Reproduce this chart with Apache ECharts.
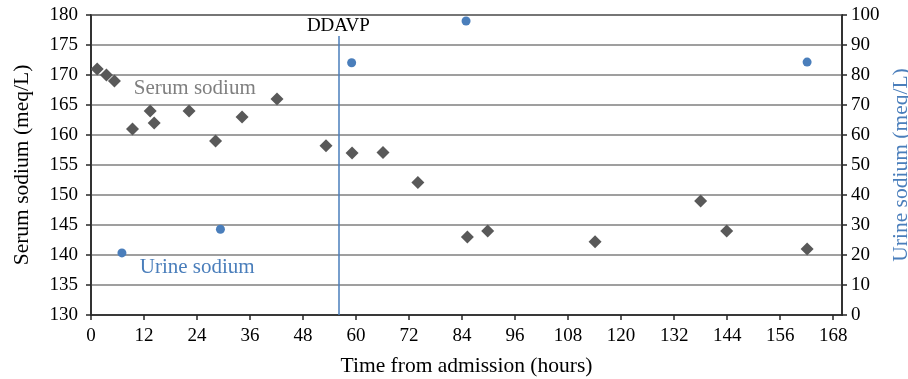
<!DOCTYPE html>
<html>
<head>
<meta charset="utf-8">
<script src="https://cdn.jsdelivr.net/npm/echarts@6/dist/echarts.min.js"></script>
<style>html,body{margin:0;padding:0;background:#fff}#c{width:908px;height:379px}</style>
</head>
<body>
<div id="c"></div>
<script>
// Serum sodium (left axis, meq/L) vs hours from admission
const serumHours = [1.4, 3.5, 5.3, 9.4, 13.4, 14.3, 22.2, 28.2, 34.2, 42.1, 53.2, 59.1, 66.1, 74.0, 85.2, 89.8, 114.1, 138.0, 143.9, 162.1];
const serumValues = [171, 170, 169, 161, 164, 162, 164, 159, 163, 166, 158.2, 157, 157.1, 152.1, 143, 144, 142.2, 149, 144, 141];
// Urine sodium (right axis, meq/L)
const urineHours = [7.0, 29.3, 59.0, 84.9, 162.1];
const urineValues = [20.7, 28.6, 84.1, 98, 84.3];
// Axis ticks
const xTicks = [0, 12, 24, 36, 48, 60, 72, 84, 96, 108, 120, 132, 144, 156, 168];
const ddavpHour = 56;

const FONT = '"Liberation Serif", "DejaVu Serif", serif';
const BLUE = '#4a7ebb';
const AXIS = '#262626';
const TICK = 19;
const TITLE = 21.5;
const chart = echarts.init(document.getElementById('c'), null, {renderer: 'canvas'});
chart.setOption({
  animation: false,
  backgroundColor: '#fff',
  grid: {left: 91, right: 66, top: 15, bottom: 64, containLabel: false, outerBoundsMode: 'none',
         show: true, borderColor: AXIS, borderWidth: 1.5, backgroundColor: 'transparent'},
  xAxis: {
    type: 'value', min: 0, max: 170, interval: 12,
    name: 'Time from admission (hours)', nameLocation: 'middle', nameGap: 40,
    nameTextStyle: {fontFamily: FONT, fontSize: TITLE, color: '#000'},
    axisLine: {show: true, lineStyle: {color: AXIS, width: 1.5}},
    axisTick: {show: true, length: 5, inside: false, customValues: xTicks, lineStyle: {color: AXIS, width: 1.5}},
    axisLabel: {customValues: xTicks, fontFamily: FONT, fontSize: TICK, color: '#000', margin: 12},
    splitLine: {show: false}
  },
  yAxis: [{
    type: 'value', min: 130, max: 180, interval: 5, position: 'left',
    name: 'Serum sodium (meq/L)', nameLocation: 'middle', nameGap: 58, nameRotate: 90,
    nameTextStyle: {fontFamily: FONT, fontSize: TITLE, color: '#000'},
    axisLine: {show: true, lineStyle: {color: AXIS, width: 1.5}},
    axisTick: {show: true, length: 5, lineStyle: {color: AXIS, width: 1.5}},
    axisLabel: {fontFamily: FONT, fontSize: TICK, color: '#000', margin: 13},
    splitLine: {show: true, lineStyle: {color: '#7f7f7f', width: 1.6}}
  }, {
    type: 'value', min: 0, max: 100, interval: 10, position: 'right',
    name: 'Urine sodium (meq/L)', nameLocation: 'middle', nameGap: 45, nameRotate: 90,
    nameTextStyle: {fontFamily: FONT, fontSize: TITLE, color: BLUE},
    axisLine: {show: true, lineStyle: {color: AXIS, width: 1.5}},
    axisTick: {show: true, length: 5, lineStyle: {color: AXIS, width: 1.5}},
    axisLabel: {fontFamily: FONT, fontSize: TICK, color: '#000', margin: 9},
    splitLine: {show: false}
  }],
  series: [{
    name: 'Serum sodium', type: 'scatter', yAxisIndex: 0,
    symbol: 'diamond', symbolSize: 13,
    itemStyle: {color: '#595959', opacity: 1},
    data: serumHours.map((h, i) => [h, serumValues[i]]),
    markLine: {
      silent: true, symbol: ['none', 'none'],
      lineStyle: {color: BLUE, width: 1.5, type: 'solid', opacity: 1},
      label: {show: true, position: 'end', formatter: 'DDAVP', fontFamily: FONT, fontSize: 19, color: '#000', distance: 0},
      data: [[{coord: [ddavpHour, 130]}, {coord: [ddavpHour, 176.5]}]]
    },
    markPoint: {
      silent: true, symbol: 'rect', symbolSize: 1,
      itemStyle: {color: 'rgba(0,0,0,0)'},
      label: {show: true, position: 'inside', formatter: 'Serum sodium', fontFamily: FONT, fontSize: 21, color: '#7f7f7f'},
      data: [{coord: [23.5, 167.7], value: 0}]
    }
  }, {
    name: 'Urine sodium', type: 'scatter', yAxisIndex: 1,
    symbol: 'circle', symbolSize: 9,
    itemStyle: {color: BLUE, opacity: 1},
    data: urineHours.map((h, i) => [h, urineValues[i]]),
    markPoint: {
      silent: true, symbol: 'rect', symbolSize: 1,
      itemStyle: {color: 'rgba(0,0,0,0)'},
      label: {show: true, position: 'inside', formatter: 'Urine sodium', fontFamily: FONT, fontSize: 21, color: BLUE},
      data: [{coord: [24.05, 15.7], value: 0}]
    }
  }]
});
</script>
</body>
</html>
